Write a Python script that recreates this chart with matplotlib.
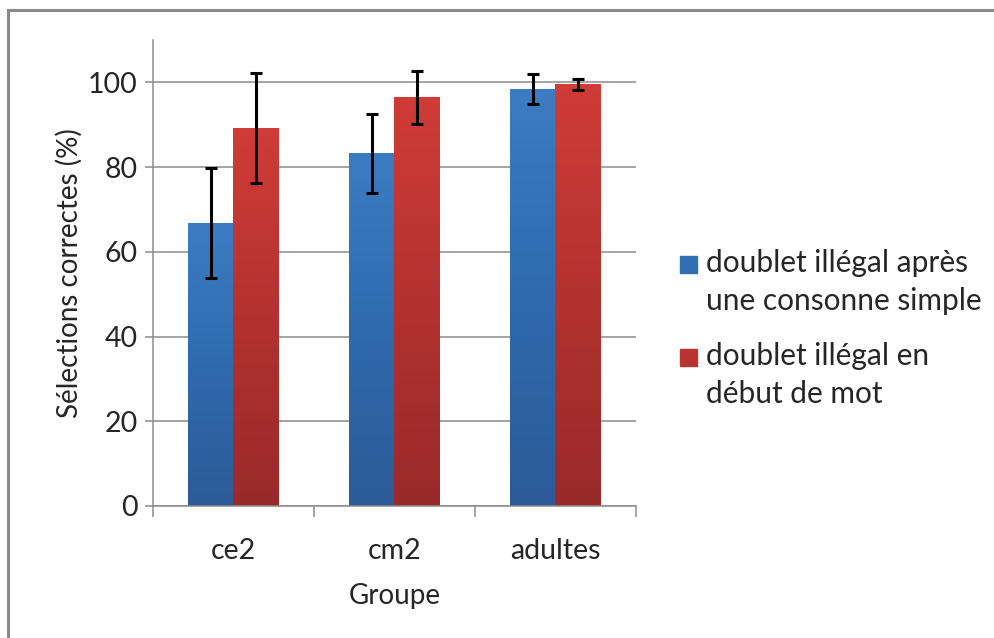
import numpy as np
import matplotlib
matplotlib.use("Agg")
import matplotlib.pyplot as plt
from matplotlib.colors import LinearSegmentedColormap
from matplotlib.patches import Rectangle
from matplotlib.lines import Line2D

groups = ["ce2", "cm2", "adultes"]
series = ["doublet illégal après\nune consonne simple", "doublet illégal en\ndébut de mot"]
apres_consonne = [66.8, 83.2, 98.4]
apres_consonne_err = [13.0, 9.4, 3.6]
debut_mot = [89.2, 96.5, 99.5]
debut_mot_err = [13.0, 6.3, 1.2]

plt.rcParams["font.family"] = ["Lato", "DejaVu Sans"]
TXT = "#262626"
GRID = "#8c8c8c"

blue_cmap = LinearSegmentedColormap.from_list("b", ["#2c5b97", "#2f6aae", "#3d7cc3"])
red_cmap = LinearSegmentedColormap.from_list("r", ["#992a2a", "#b33230", "#d03c37"])

fig = plt.figure(figsize=(9.95, 6.38), dpi=100)
ax = fig.add_axes([153 / 995, 1 - 506 / 638, (636 - 153) / 995, (506 - 40) / 638])

x = np.arange(len(groups))
w = 0.28
grad = np.linspace(0, 1, 256).reshape(-1, 1)
for vals, errs, off, cmap in [(apres_consonne, apres_consonne_err, -w / 2, blue_cmap),
                              (debut_mot, debut_mot_err, w / 2, red_cmap)]:
    bars = ax.bar(x + off, vals, w, color="none", zorder=2)
    for b in bars:
        x0, h = b.get_x(), b.get_height()
        ax.imshow(grad, extent=[x0, x0 + b.get_width(), 0, h], origin="lower",
                  aspect="auto", cmap=cmap, zorder=2)
    ax.errorbar(x + off, vals, yerr=errs, fmt="none", ecolor="black",
                elinewidth=2.2, capsize=4, capthick=2.2, zorder=4)

ax.set_xlim(-0.5, 2.5)
ax.set_ylim(0, 110)
ax.set_yticks(range(0, 101, 20))
ax.yaxis.grid(True, color=GRID, lw=1.1)
ax.set_axisbelow(True)
ax.set_xticks([-0.5, 0.5, 1.5, 2.5])
ax.set_xticklabels([])
ax.set_xticks(x, minor=True)
ax.set_xticklabels(groups, minor=True)
ax.tick_params(axis="x", which="major", direction="out", length=8, color=GRID, width=1.1)
ax.tick_params(axis="x", which="minor", length=0, pad=23, labelsize=20.5, labelcolor=TXT)
ax.tick_params(axis="y", direction="out", length=6, color=GRID, width=1.1,
               labelsize=20.5, labelcolor=TXT, pad=5)
for s in ["top", "right"]:
    ax.spines[s].set_visible(False)
for s in ["left", "bottom"]:
    ax.spines[s].set_color(GRID)
    ax.spines[s].set_linewidth(1.1)
ax.set_ylabel("Sélections correctes (%)", fontsize=20, color=TXT, labelpad=4)
ax.set_xlabel("Groupe", fontsize=20, color=TXT, labelpad=14)

# legend drawn by hand so the swatch sits on the first line
for i, (lab, c) in enumerate(zip(series, [blue_cmap(0.6), red_cmap(0.6)])):
    y = 1 - (264 + i * 93) / 638
    fig.add_artist(Rectangle((680 / 995, y - 9 / 638), 17 / 995, 17 / 638,
                             transform=fig.transFigure, color=c))
    fig.text(706 / 995, y + 15 / 638, lab, fontsize=21.5, color=TXT, va="top",
             ha="left", linespacing=1.42)

# chart frame (only top and left edges visible in crop)
fig.add_artist(Line2D([8 / 995, 8 / 995], [0, 1 - 10 / 638], color="#8a8a8a", lw=2.2,
                      transform=fig.transFigure))
fig.add_artist(Line2D([8 / 995, 1], [1 - 10 / 638, 1 - 10 / 638], color="#8a8a8a", lw=2.2,
                      transform=fig.transFigure))

fig.savefig("out.png", dpi=100)
